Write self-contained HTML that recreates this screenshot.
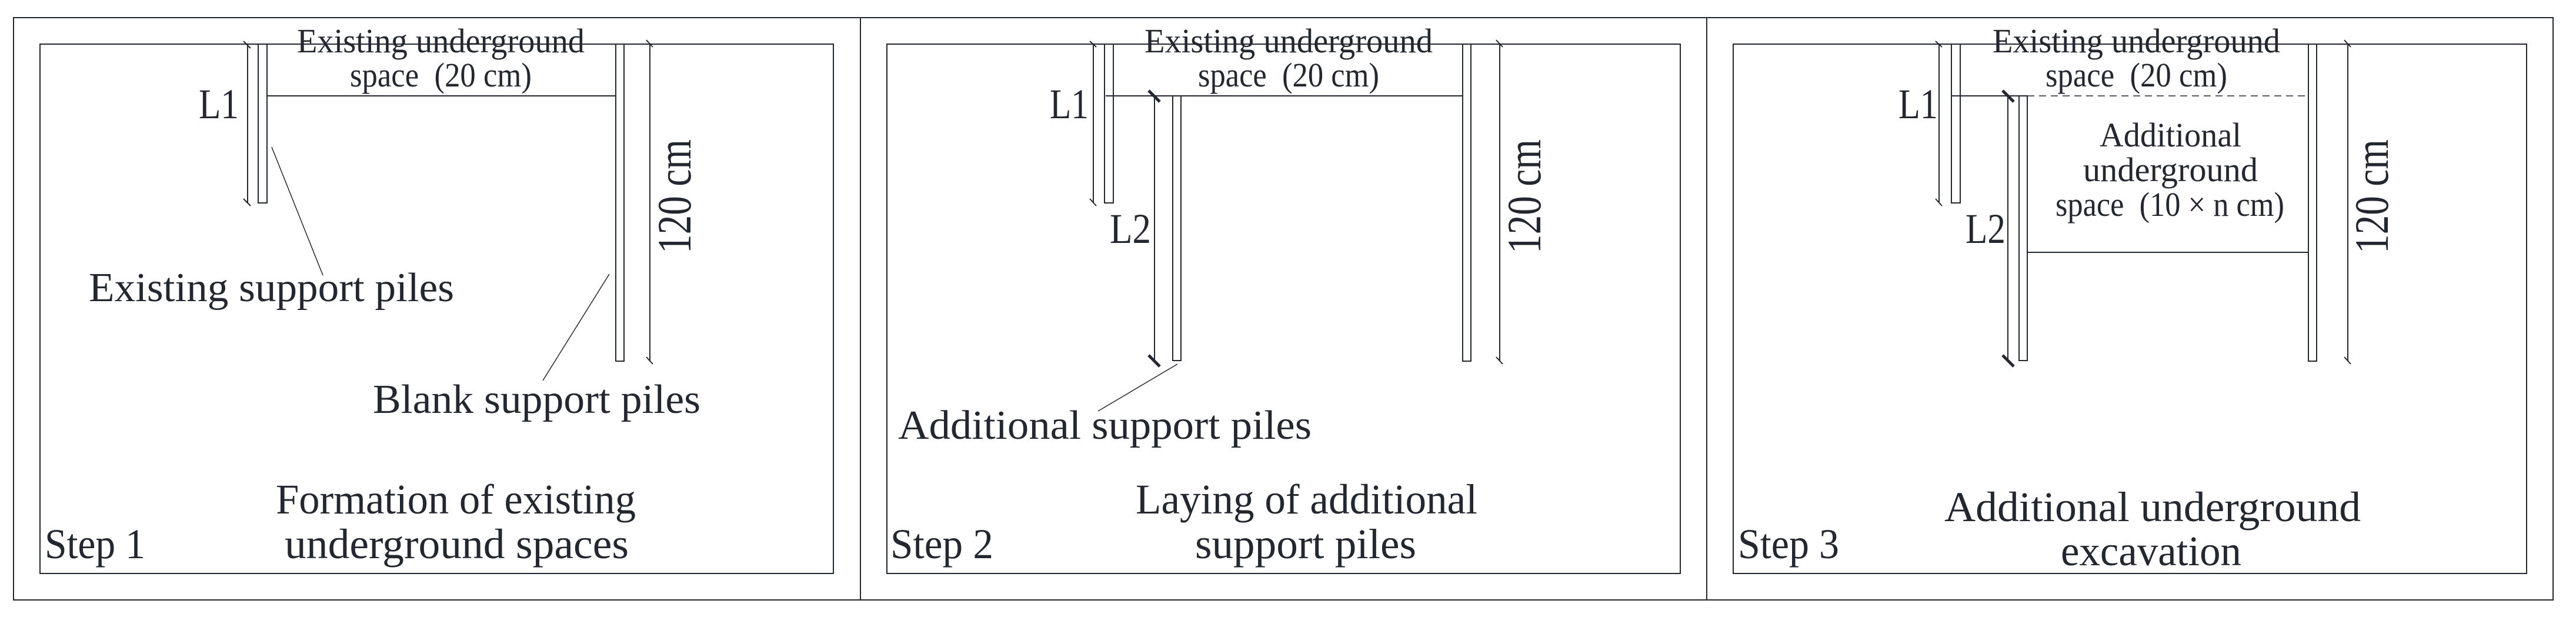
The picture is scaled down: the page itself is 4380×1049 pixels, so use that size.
<!DOCTYPE html>
<html><head><meta charset="utf-8"><style>
html,body{margin:0;padding:0;background:#fff;}
svg{display:block;}
text{font-family:"Liberation Serif",serif;fill:#222730;}
</style></head><body>
<svg width="4380" height="1049" viewBox="0 0 4380 1049" xmlns="http://www.w3.org/2000/svg">
<g stroke="#222730" fill="none" stroke-width="2">
<rect x="23" y="30" width="4318" height="990"/>
<line x1="1463" y1="30" x2="1463" y2="1020"/>
<line x1="2902" y1="30" x2="2902" y2="1020"/>
<rect x="68" y="75" width="1349" height="900"/>
<rect x="1508" y="75" width="1349" height="900"/>
<rect x="2947" y="75" width="1349" height="900"/>

<rect x="439" y="75" width="15" height="270"/>
<line x1="421" y1="75" x2="421" y2="345"/>
<line x1="414" y1="70" x2="426" y2="82"/>
<line x1="414" y1="338" x2="426" y2="350"/>
<line x1="454" y1="163" x2="1047" y2="163"/>
<rect x="1047" y="75" width="14" height="539"/>
<line x1="1105" y1="75" x2="1105" y2="614"/>
<line x1="1099" y1="68" x2="1110" y2="80"/>
<line x1="1099" y1="607" x2="1110" y2="619"/>
<line x1="462" y1="250" x2="549" y2="468" stroke-width="1.5"/>
<line x1="1036" y1="466" x2="923" y2="647" stroke-width="1.5"/>

<rect x="1878" y="75" width="15" height="270"/>
<line x1="1859" y1="75" x2="1859" y2="345"/>
<line x1="1853" y1="70" x2="1864" y2="80"/>
<line x1="1853" y1="338" x2="1864" y2="350"/>
<line x1="1880" y1="163" x2="2487" y2="163"/>
<rect x="1994" y="163" width="14" height="450"/>
<line x1="1963" y1="163" x2="1963" y2="613"/>
<line x1="1953" y1="154" x2="1972" y2="173" stroke-width="5"/>
<line x1="1953" y1="604" x2="1972" y2="623" stroke-width="5"/>
<rect x="2487" y="75" width="14" height="539"/>
<line x1="2550" y1="75" x2="2550" y2="614"/>
<line x1="2544" y1="68" x2="2555" y2="80"/>
<line x1="2544" y1="607" x2="2555" y2="619"/>
<line x1="2002" y1="619" x2="1867" y2="699" stroke-width="1.5"/>

<rect x="3318" y="75" width="15" height="270"/>
<line x1="3297" y1="75" x2="3297" y2="345"/>
<line x1="3291" y1="70" x2="3302" y2="80"/>
<line x1="3291" y1="338" x2="3302" y2="350"/>
<line x1="3318" y1="163" x2="3440" y2="163"/>
<line x1="3447" y1="163" x2="3925" y2="163" stroke-dasharray="12 8" stroke-width="1.5"/>
<rect x="3433" y="163" width="14" height="450"/>
<line x1="3414" y1="163" x2="3414" y2="613"/>
<line x1="3405" y1="154" x2="3424" y2="173" stroke-width="5"/>
<line x1="3405" y1="604" x2="3424" y2="623" stroke-width="5"/>
<line x1="3447" y1="429" x2="3925" y2="429"/>
<rect x="3925" y="75" width="14" height="539"/>
<line x1="3992" y1="75" x2="3992" y2="614"/>
<line x1="3986" y1="68" x2="3997" y2="80"/>
<line x1="3986" y1="607" x2="3997" y2="619"/>
</g>

<text x="505" y="89" font-size="58" textLength="489" lengthAdjust="spacingAndGlyphs">Existing underground</text>
<text x="595" y="147" font-size="58" textLength="309" lengthAdjust="spacingAndGlyphs" xml:space="preserve">space  (20 cm)</text>
<text x="338" y="201" font-size="72" textLength="68" lengthAdjust="spacingAndGlyphs">L1</text>
<text transform="translate(1174,431) rotate(-90)" font-size="82" textLength="194" lengthAdjust="spacingAndGlyphs">120 cm</text>
<text x="151" y="512" font-size="70" textLength="621" lengthAdjust="spacingAndGlyphs">Existing support piles</text>
<text x="634" y="702" font-size="70" textLength="557" lengthAdjust="spacingAndGlyphs">Blank support piles</text>
<text x="469" y="873" font-size="72" textLength="612" lengthAdjust="spacingAndGlyphs">Formation of existing</text>
<text x="484" y="949" font-size="72" textLength="585" lengthAdjust="spacingAndGlyphs">underground spaces</text>
<text x="76" y="949" font-size="72" textLength="171" lengthAdjust="spacingAndGlyphs">Step 1</text>

<text x="1946" y="89" font-size="58" textLength="490" lengthAdjust="spacingAndGlyphs">Existing underground</text>
<text x="2037" y="147" font-size="58" textLength="308" lengthAdjust="spacingAndGlyphs" xml:space="preserve">space  (20 cm)</text>
<text x="1785" y="201" font-size="72" textLength="66" lengthAdjust="spacingAndGlyphs">L1</text>
<text x="1887" y="413" font-size="72" textLength="70" lengthAdjust="spacingAndGlyphs">L2</text>
<text transform="translate(2619,431) rotate(-90)" font-size="82" textLength="194" lengthAdjust="spacingAndGlyphs">120 cm</text>
<text x="1527" y="746" font-size="70" textLength="703" lengthAdjust="spacingAndGlyphs">Additional support piles</text>
<text x="1931" y="873" font-size="72" textLength="581" lengthAdjust="spacingAndGlyphs">Laying of additional</text>
<text x="2032" y="949" font-size="72" textLength="376" lengthAdjust="spacingAndGlyphs">support piles</text>
<text x="1514" y="949" font-size="72" textLength="175" lengthAdjust="spacingAndGlyphs">Step 2</text>

<text x="3388" y="89" font-size="58" textLength="489" lengthAdjust="spacingAndGlyphs">Existing underground</text>
<text x="3478" y="147" font-size="58" textLength="309" lengthAdjust="spacingAndGlyphs" xml:space="preserve">space  (20 cm)</text>
<text x="3570" y="249" font-size="58" textLength="241" lengthAdjust="spacingAndGlyphs">Additional</text>
<text x="3542" y="308" font-size="58" textLength="297" lengthAdjust="spacingAndGlyphs">underground</text>
<text x="3495" y="367" font-size="58" textLength="389" lengthAdjust="spacingAndGlyphs" xml:space="preserve">space  (10 × n cm)</text>
<text x="3228" y="201" font-size="72" textLength="67" lengthAdjust="spacingAndGlyphs">L1</text>
<text x="3342" y="413" font-size="72" textLength="68" lengthAdjust="spacingAndGlyphs">L2</text>
<text transform="translate(4060,431) rotate(-90)" font-size="82" textLength="194" lengthAdjust="spacingAndGlyphs">120 cm</text>
<text x="3306" y="886" font-size="72" textLength="708" lengthAdjust="spacingAndGlyphs">Additional underground</text>
<text x="3504" y="961" font-size="72" textLength="307" lengthAdjust="spacingAndGlyphs">excavation</text>
<text x="2955" y="949" font-size="72" textLength="172" lengthAdjust="spacingAndGlyphs">Step 3</text>
</svg>
</body></html>
